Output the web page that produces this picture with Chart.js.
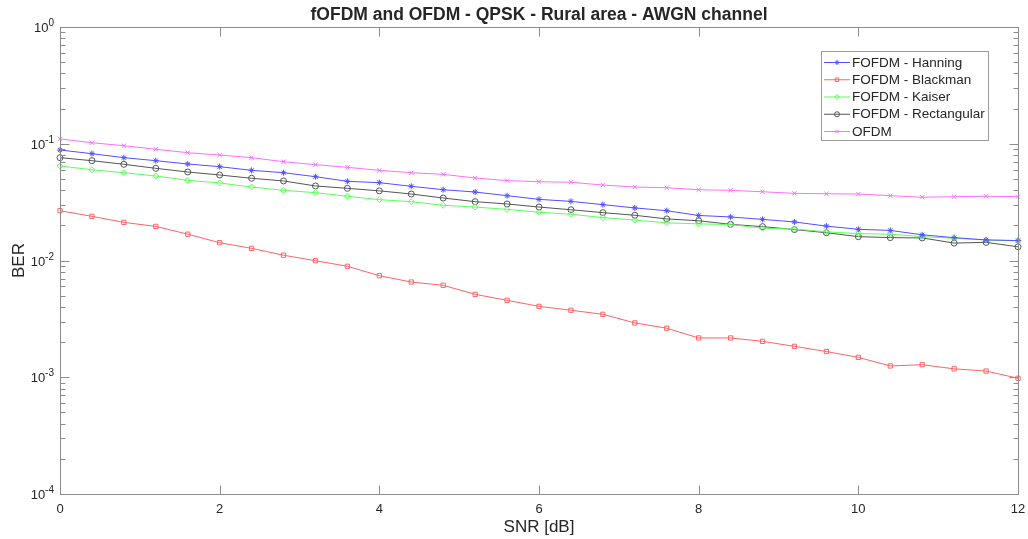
<!DOCTYPE html>
<html>
<head>
<meta charset="utf-8">
<title>fOFDM and OFDM - QPSK - Rural area - AWGN channel</title>
<script src="https://cdn.jsdelivr.net/npm/chart.js@4/dist/chart.umd.min.js"></script>
<style>
  html, body { margin: 0; padding: 0; background: #ffffff; }
  #wrap { width: 1028px; height: 539px; }
</style>
</head>
<body>
<div id="wrap"><canvas id="ber" width="1028" height="539"></canvas></div>
<script>
// SNR sweep in dB
const snrDb = [0, 0.4, 0.8, 1.2, 1.6, 2, 2.4, 2.8, 3.2, 3.6, 4, 4.4, 4.8, 5.2, 5.6, 6,
               6.4, 6.8, 7.2, 7.6, 8, 8.4, 8.8, 9.2, 9.6, 10, 10.4, 10.8, 11.2, 11.6, 12];

// Measured bit error rates per waveform
const berHanning = [0.0884, 0.0822, 0.0760, 0.0716, 0.0671, 0.0636, 0.0592, 0.0565, 0.0522, 0.0477, 0.0464,
                    0.0432, 0.0404, 0.0386, 0.0359, 0.0334, 0.0321, 0.0301, 0.0282, 0.0267, 0.0243,
                    0.0236, 0.0225, 0.0214, 0.0197, 0.0185, 0.0181, 0.0166, 0.0157, 0.0150, 0.0148];
const berBlackman = [0.0267, 0.0239, 0.0212, 0.0196, 0.0168, 0.0142, 0.0127, 0.0111, 0.00996, 0.00892, 0.00741,
                     0.00654, 0.00613, 0.00513, 0.00456, 0.00405, 0.00375, 0.00346, 0.00292, 0.00263, 0.00217,
                     0.00217, 0.00203, 0.00184, 0.00166, 0.00148, 0.00125, 0.00128, 0.00118, 0.00113, 0.00098];
const berKaiser = [0.0645, 0.0599, 0.0565, 0.0529, 0.0486, 0.0461, 0.0426, 0.0399, 0.0381, 0.0355, 0.0332,
                   0.0319, 0.0297, 0.0287, 0.0274, 0.0259, 0.0249, 0.0233, 0.0222, 0.0210, 0.0206,
                   0.0203, 0.0189, 0.0186, 0.0176, 0.0170, 0.0168, 0.0160, 0.0155, 0.0150, 0.0148];
const berRectangular = [0.0760, 0.0716, 0.0667, 0.0616, 0.0573, 0.0540, 0.0506, 0.0480, 0.0435, 0.0415, 0.0395,
                        0.0371, 0.0343, 0.0319, 0.0305, 0.0287, 0.0272, 0.0257, 0.0244, 0.0227, 0.0219,
                        0.0204, 0.0195, 0.0184, 0.0173, 0.0160, 0.0157, 0.0156, 0.0141, 0.0143, 0.0131];
const berOfdm = [0.110, 0.102, 0.0962, 0.0897, 0.0838, 0.0801, 0.0760, 0.0702, 0.0662, 0.0628, 0.0592,
                 0.0565, 0.0547, 0.0509, 0.0483, 0.0473, 0.0468, 0.0443, 0.0426, 0.0420, 0.0404,
                 0.0399, 0.0388, 0.0376, 0.0373, 0.0371, 0.0359, 0.0348, 0.0352, 0.0355, 0.0352];

const seriesNames = ['FOFDM - Hanning', 'FOFDM - Blackman', 'FOFDM - Kaiser', 'FOFDM - Rectangular', 'OFDM'];
const xTickValues = [0, 2, 4, 6, 8, 10, 12];
const yDecadeExponents = [0, -1, -2, -3, -4];
const chartTitle = 'fOFDM and OFDM - QPSK - Rural area - AWGN channel';

const FONT = '"Liberation Sans", Arial, Helvetica, sans-serif';
const TEXT = '#262626';
const AXIS = '#8c8c8c';

function series(name, values, color, style) {
  return {
    label: name,
    data: snrDb.map((x, i) => ({ x: x, y: values[i] })),
    borderColor: color,
    backgroundColor: color,
    borderWidth: 1,
    pointStyle: style,
    pointRadius: 3,
    pointHoverRadius: 3,
    pointBorderWidth: 1,
    pointBorderColor: color,
    pointBackgroundColor: 'rgba(0,0,0,0)',
    tension: 0,
    fill: false,
    clip: 6
  };
}

const datasets = [
  series(seriesNames[0], berHanning, 'rgb(80,80,255)', 'star'),
  series(seriesNames[1], berBlackman, 'rgb(255,100,100)', 'rect'),
  series(seriesNames[2], berKaiser, 'rgb(90,255,90)', 'rectRot'),
  series(seriesNames[3], berRectangular, 'rgb(85,85,85)', 'circle'),
  series(seriesNames[4], berOfdm, 'rgb(255,110,255)', 'crossRot')
];

// Box, inward tick marks, superscript decade labels, title and legend
const matlabFrame = {
  id: 'matlabFrame',
  afterDatasetsDraw(chart) {
    const ctx = chart.ctx;
    const a = chart.chartArea;
    const xs = chart.scales.x, ys = chart.scales.y;
    const L = Math.round(a.left) + 0.5, R = Math.round(a.right) + 0.5;
    const T = Math.round(a.top) + 0.5, B = Math.round(a.bottom) + 0.5;
    ctx.save();
    ctx.strokeStyle = AXIS;
    ctx.lineWidth = 1;
    ctx.strokeRect(L, T, R - L, B - T);

    ctx.beginPath();
    xTickValues.forEach(v => {
      const px = Math.round(xs.getPixelForValue(v)) + 0.5;
      ctx.moveTo(px, B); ctx.lineTo(px, B - 9);
      ctx.moveTo(px, T); ctx.lineTo(px, T + 9);
    });
    yDecadeExponents.forEach(e => {
      const py = Math.round(ys.getPixelForValue(Math.pow(10, e))) + 0.5;
      ctx.moveTo(L, py); ctx.lineTo(L + 9, py);
      ctx.moveTo(R, py); ctx.lineTo(R - 9, py);
      if (e < 0) {
        for (let m = 2; m <= 9; m++) {
          const my = Math.round(ys.getPixelForValue(m * Math.pow(10, e))) + 0.5;
          ctx.moveTo(L, my); ctx.lineTo(L + 5, my);
          ctx.moveTo(R, my); ctx.lineTo(R - 5, my);
        }
      }
    });
    ctx.stroke();

    // decade labels: "10" with raised exponent
    ctx.fillStyle = TEXT;
    ctx.textBaseline = 'alphabetic';
    ctx.textAlign = 'left';
    yDecadeExponents.forEach(e => {
      const py = ys.getPixelForValue(Math.pow(10, e));
      const sup = e === 0 ? '0' : '-' + Math.abs(e);
      ctx.font = '13px ' + FONT;
      const wBase = ctx.measureText('10').width;
      ctx.font = '10px ' + FONT;
      const wSup = ctx.measureText(sup).width;
      const right = a.left - 6;
      const x0 = right - wSup - wBase;
      ctx.font = '13px ' + FONT;
      ctx.fillText('10', x0, py + 5);
      ctx.font = '10px ' + FONT;
      ctx.fillText(sup, x0 + wBase, py - 1);
    });

    // title
    ctx.font = 'bold 17.5px ' + FONT;
    ctx.textAlign = 'center';
    ctx.fillText(chartTitle, (a.left + a.right) / 2, 20);

    // legend
    const lx = 821.5, ly = 51.5, lw = 167, lh = 89;
    ctx.fillStyle = '#ffffff';
    ctx.fillRect(lx, ly, lw, lh);
    ctx.strokeStyle = '#9a9a9a';
    ctx.strokeRect(lx, ly, lw, lh);
    ctx.font = '13.5px ' + FONT;
    ctx.textAlign = 'left';
    ctx.textBaseline = 'middle';
    chart.data.datasets.forEach((ds, i) => {
      const cy = 62.5 + i * 17.25;
      ctx.strokeStyle = ds.borderColor;
      ctx.lineWidth = 1;
      ctx.beginPath();
      ctx.moveTo(824, cy); ctx.lineTo(850, cy);
      ctx.stroke();
      ctx.fillStyle = 'rgba(0,0,0,0)';
      ctx.strokeStyle = ds.borderColor;
      Chart.helpers.drawPoint(ctx, {
        pointStyle: ds.pointStyle, radius: 2.5, borderWidth: 1, rotation: 0
      }, 837, cy);
      ctx.fillStyle = TEXT;
      ctx.fillText(ds.label, 852, cy + 0.5);
    });
    ctx.restore();
  }
};

new Chart(document.getElementById('ber'), {
  type: 'line',
  data: { datasets: datasets },
  options: {
    responsive: false,
    animation: false,
    devicePixelRatio: 1,
    layout: { padding: { left: 0, top: 27, right: 10, bottom: 0 } },
    plugins: {
      legend: { display: false },
      tooltip: { enabled: false },
      title: { display: false }
    },
    scales: {
      x: {
        type: 'linear',
        min: 0, max: 12,
        afterFit(scale) { scale.height = 45; scale.paddingLeft = 0; scale.paddingRight = 0; },
        afterBuildTicks(scale) { scale.ticks = xTickValues.map(v => ({ value: v })); },
        grid: { display: false, drawTicks: false },
        border: { display: false },
        ticks: { color: TEXT, font: { family: FONT, size: 13 }, padding: 8, maxRotation: 0 },
        title: { display: true, text: 'SNR [dB]', color: TEXT, font: { family: FONT, size: 17 }, padding: { top: 0, bottom: 1 } }
      },
      y: {
        type: 'logarithmic',
        min: 1e-4, max: 1,
        afterFit(scale) { scale.width = 60; scale.paddingTop = 0; scale.paddingBottom = 0; },
        grid: { display: false, drawTicks: false },
        border: { display: false },
        ticks: { display: false },
        title: { display: true, text: 'BER', color: TEXT, font: { family: FONT, size: 17 }, padding: { top: 9, bottom: 0 } }
      }
    }
  },
  plugins: [matlabFrame]
});
</script>
</body>
</html>
